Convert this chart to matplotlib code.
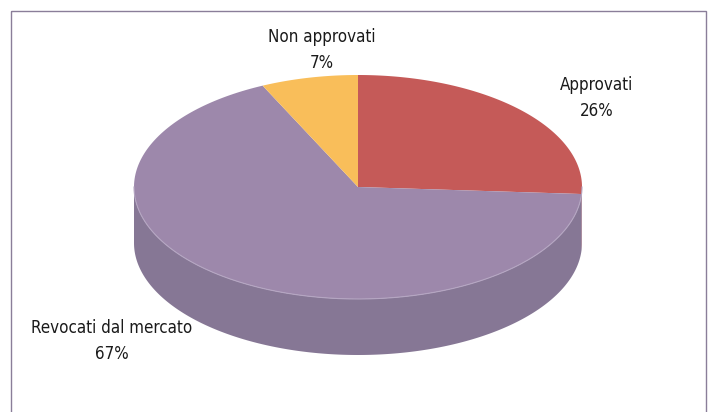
import numpy as np
import matplotlib.pyplot as plt
from matplotlib import font_manager
from matplotlib.patches import Polygon, Rectangle

# dati
categorie = ['Approvati', 'Revocati dal mercato', 'Non approvati']
valori = [26, 67, 7]
colori_top = ['#C55A58', '#9D88AB', '#F9BE5A']
colori_lato = ['#A8474A', '#867795', '#D9A048']

# posizioni etichette (pixel)
pos_etichette = [(597, 98), (112, 341), (322, 50)]

# cerca il font più stretto disponibile
def stretch_num(f):
    s = f.stretch
    if isinstance(s, str):
        s = font_manager.stretch_dict.get(s, 500)
    if 'Narrow' in f.name or 'Condensed' in f.name:
        s = min(s, 400)
    return s

cand = [f for f in font_manager.fontManager.ttflist
        if f.style == 'normal' and f.weight in (400, 'normal', 'regular')
        and stretch_num(f) < 500]
if cand:
    cand.sort(key=stretch_num)
    fp = font_manager.FontProperties(fname=cand[0].fname, size=12.2)
else:
    fp = font_manager.FontProperties(family='DejaVu Sans', stretch='condensed', size=11)

fig = plt.figure(figsize=(7.09, 4.12), dpi=100)
ax = fig.add_axes([0, 0, 1, 1])
ax.set_xlim(0, 709)
ax.set_ylim(412, 0)
ax.axis('off')

cx, cy = 358, 187
rx, ry = 224, 112
depth = 56

def punti(a0, a1, n=200):
    t = np.radians(np.linspace(a0, a1, n))
    return cx + rx * np.cos(t), cy - ry * np.sin(t)

# angoli degli spicchi (da ore 12 in senso orario)
tot = sum(valori)
angoli = []
start = 90.0
for v in valori:
    end = start - 360.0 * v / tot
    angoli.append((start, end))
    start = end

# lati (solo la parte anteriore, angoli tra -180 e 0)
for (a0, a1), col in zip(angoli, colori_lato):
    lo, hi = max(a1, -180), min(a0, 0)
    if lo < hi:
        x, y = punti(hi, lo)
        xs = np.concatenate([x, x[::-1]])
        ys = np.concatenate([y, (y + depth)[::-1]])
        ax.add_patch(Polygon(np.column_stack([xs, ys]), closed=True,
                             facecolor=col, edgecolor='none'))

# facce superiori
for (a0, a1), col in zip(angoli, colori_top):
    x, y = punti(a0, a1)
    xs = np.concatenate([[cx], x])
    ys = np.concatenate([[cy], y])
    ax.add_patch(Polygon(np.column_stack([xs, ys]), closed=True,
                         facecolor=col, edgecolor='none'))

# bordo chiaro tra faccia e lato
x, y = punti(-180, 0)
ax.plot(x, y, color='#B5A6C2', lw=0.8)

for nome, v, (lx, ly) in zip(categorie, valori, pos_etichette):
    ax.text(lx, ly, f'{nome}\n{v}%', ha='center', va='center',
            fontproperties=fp, color='#1a1a1a', linespacing=1.55)

# cornice
ax.add_patch(Rectangle((10.5, 10.5), 695, 420, fill=False,
                       edgecolor='#8A7E99', lw=1.0))

fig.savefig('out.png', dpi=100)
